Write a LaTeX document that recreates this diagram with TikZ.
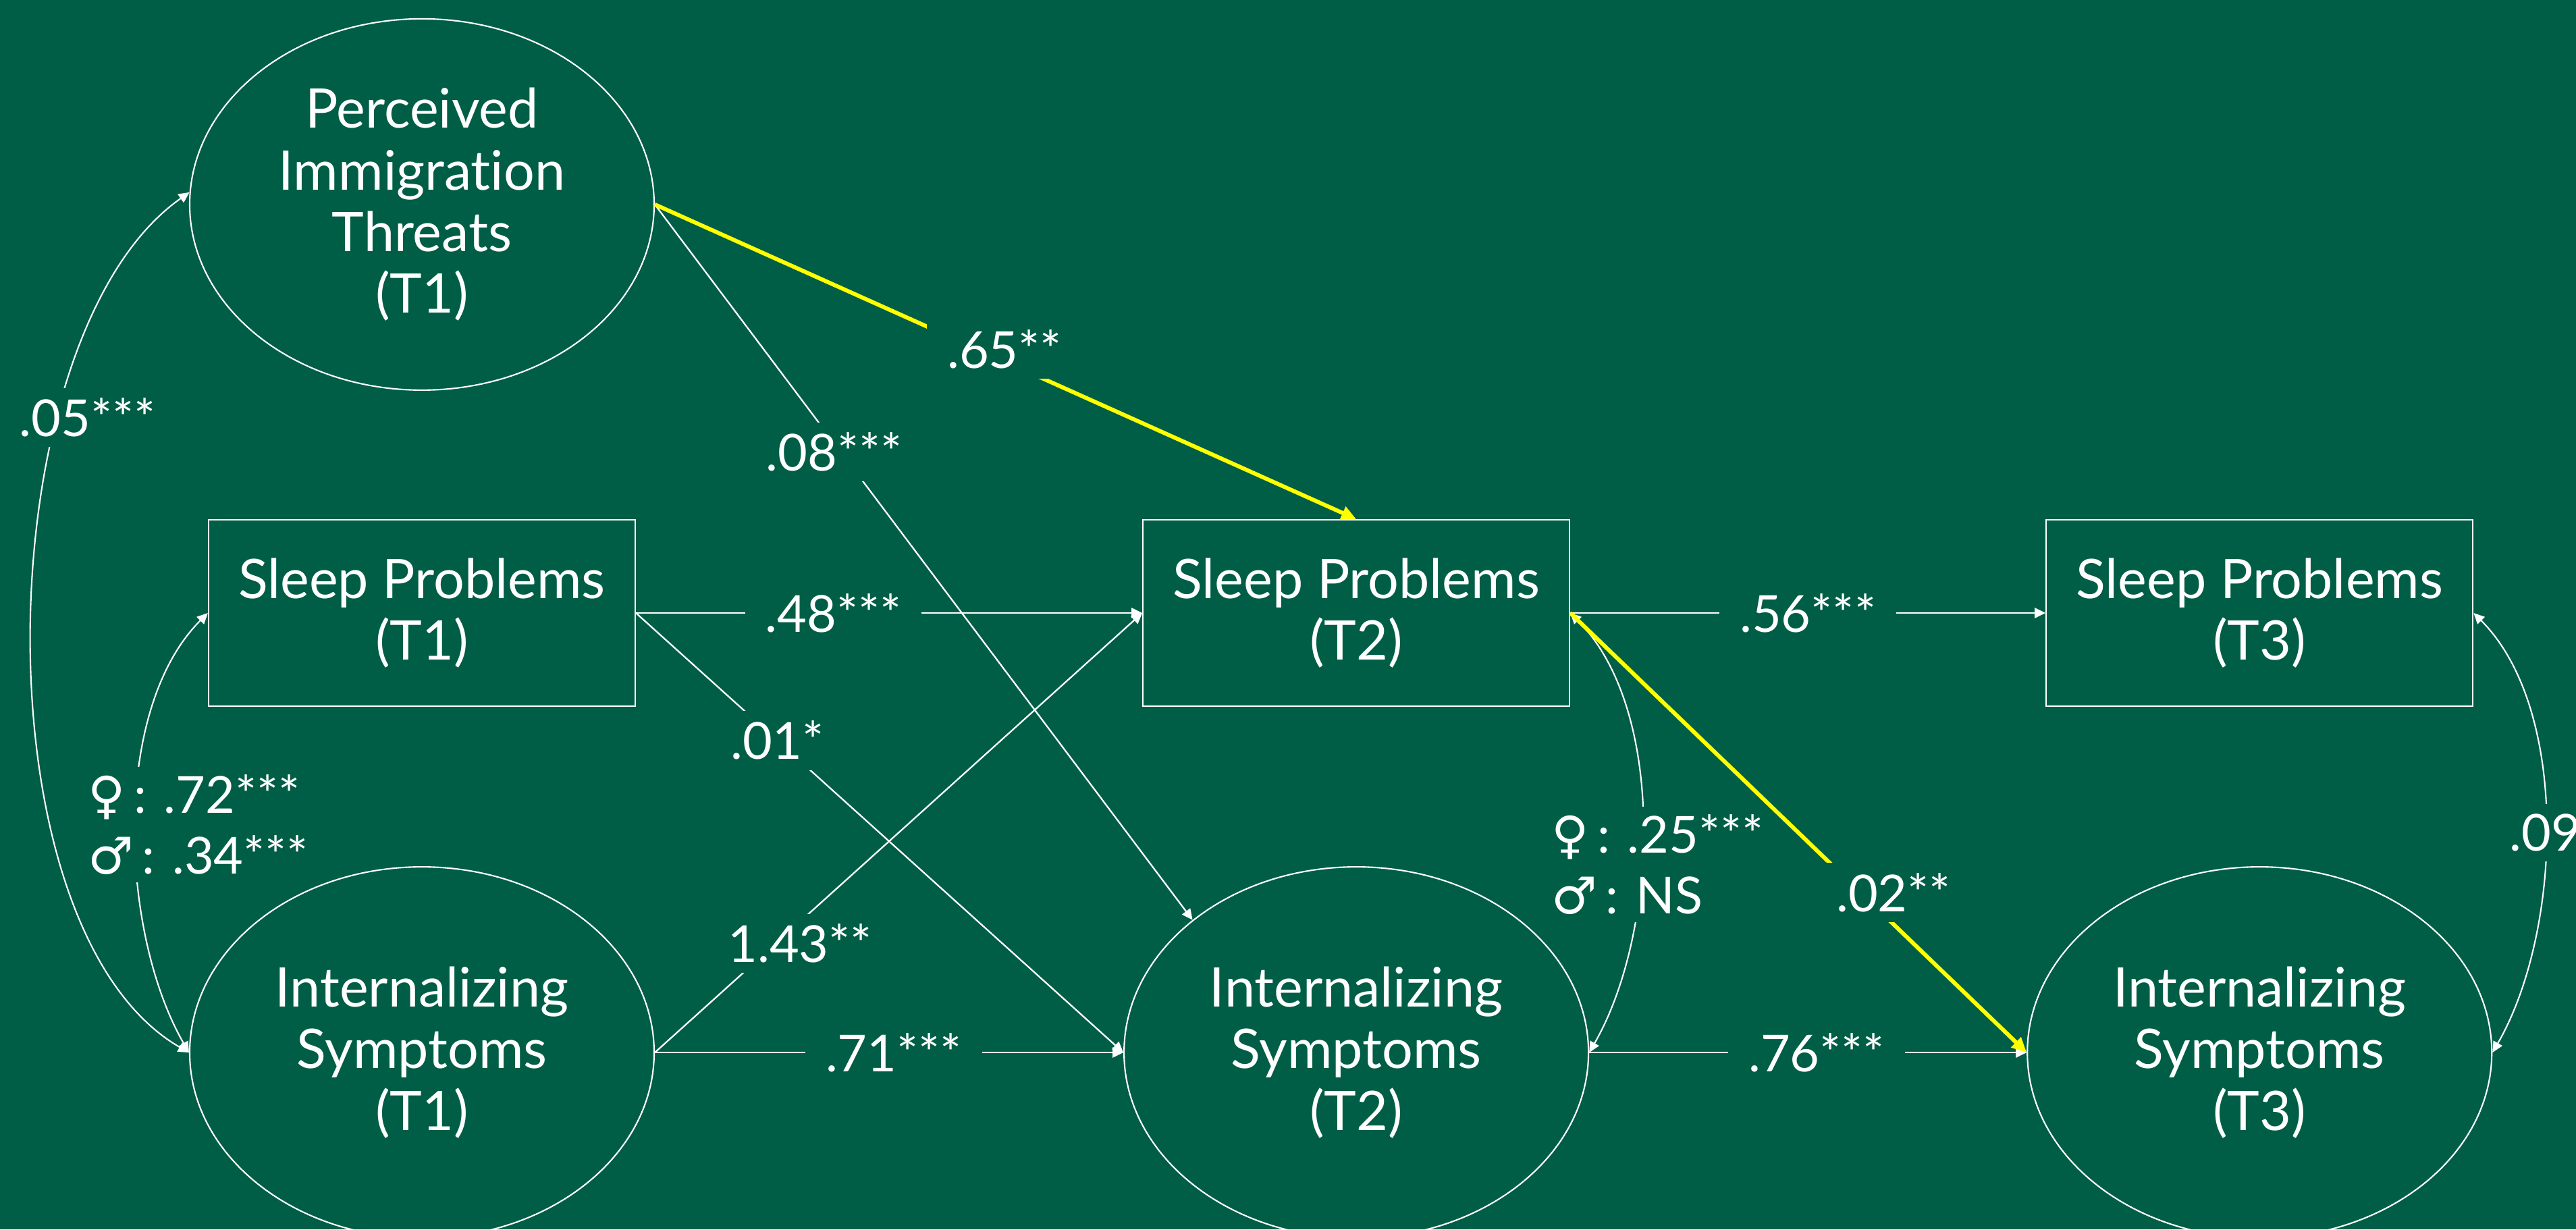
\documentclass[tikz,border=0pt]{standalone}
\usepackage{fontspec}
\setmainfont[Ligatures=NoCommon]{Lato}
\newfontfamily\symfont{DejaVu Sans}
\usetikzlibrary{arrows.meta, positioning, shapes.geometric}
\definecolor{bgc}{HTML}{005E46}
\definecolor{hl}{HTML}{FFFF00}

\begin{document}
\begin{tikzpicture}[
  font=\fontsize{23}{26}\selectfont, text=white,
  latent/.style={draw=white, line width=0.6pt, ellipse, minimum width=6.88cm, minimum height=5.5cm, align=center, inner sep=0pt},
  obs/.style={draw=white, line width=0.6pt, rectangle, minimum width=6.32cm, minimum height=2.76cm, align=center},
  reg/.style={draw=white, line width=0.65pt, -{Triangle[length=0.16cm, width=0.15cm]}},
  keypath/.style={draw=hl, line width=1.7pt, -{Triangle[length=0.22cm, width=0.2cm]}},
  cov/.style={draw=white, line width=0.6pt, {Triangle[length=0.16cm, width=0.15cm]}-{Triangle[length=0.16cm, width=0.15cm]}},
  coef/.style={fill=bgc, text=white, font=\fontsize{21.5}{25.5}\selectfont, inner xsep=0.3cm, inner ysep=0.15cm},
  sexcoef/.style={coef, align=left, inner xsep=0.1cm, inner ysep=0.12cm}
]
  \fill[bgc] (0,0) rectangle (38.16,18.21);
  \useasboundingbox (0,0) rectangle (38.16,18.21);

  \node[obs] (sp1) at (6.25,9.13) {Sleep Problems\\(T1)};
  \node[latent, above=1.9cm of sp1] (pit) {Perceived\\Immigration\\Threats\\(T1)};
  \node[latent, below=2.36cm of sp1] (is1) {Internalizing\\Symptoms\\(T1)};
  \node[obs, right=7.5cm of sp1] (sp2) {Sleep Problems\\(T2)};
  \node[latent, below=2.36cm of sp2] (is2) {Internalizing\\Symptoms\\(T2)};
  \node[obs, right=7.04cm of sp2] (sp3) {Sleep Problems\\(T3)};
  \node[latent, below=2.36cm of sp3] (is3) {Internalizing\\Symptoms\\(T3)};

  \draw[reg] (sp1.east) -- node[coef, pos=0.39] {.48***} (sp2.west);
  \draw[reg] (sp1.east) -- node[coef, pos=0.29] {.01*} (is2.west);
  \draw[reg] (is1.east) -- node[coef, pos=0.248, xshift=0.36cm] {1.43**} (sp2.west);
  \draw[reg] (is1.east) -- node[coef, pos=0.51] {.71***} (is2.west);
  \draw[reg] (pit.east) -- node[coef, pos=0.346, xshift=-0.1cm] {.08***} (is2.141);
  \draw[reg] (sp2.east) -- node[coef, pos=0.5] {.56***} (sp3.west);
  \draw[reg] (is2.east) -- node[coef, pos=0.52] {.76***} (is3.west);

  \draw[cov] (pit.177) to[out=215, in=150, looseness=0.74] node[coef, pos=0.3, xshift=0.42cm] {.05***} (is1.west);
  \draw[cov] (sp1.west) to[out=225, in=120, looseness=0.8] node[sexcoef, pos=0.5, xshift=0.92cm] {{\symfont ♀}\,: .72***\\{\symfont ♂}\,: .34***} (is1.west);
  \draw[cov] (sp2.east) to[out=-45, in=60, looseness=0.8] node[sexcoef, pos=0.5, xshift=0.23cm, yshift=-0.59cm] {{\symfont ♀}\,: .25***\\{\symfont ♂}\,: NS} (is2.east);
  \draw[cov] (sp3.east) to[out=-45, in=60, looseness=0.8] node[coef, pos=0.5, yshift=-0.12cm] {.09} (is3.east);

  \draw[keypath] (pit.east) -- node[coef, pos=0.46, xshift=0.4cm] {.65**} (sp2.north);
  \draw[keypath] (sp2.east) -- node[coef, pos=0.636, xshift=0.49cm] {.02**} (is3.west);
\end{tikzpicture}
\end{document}
